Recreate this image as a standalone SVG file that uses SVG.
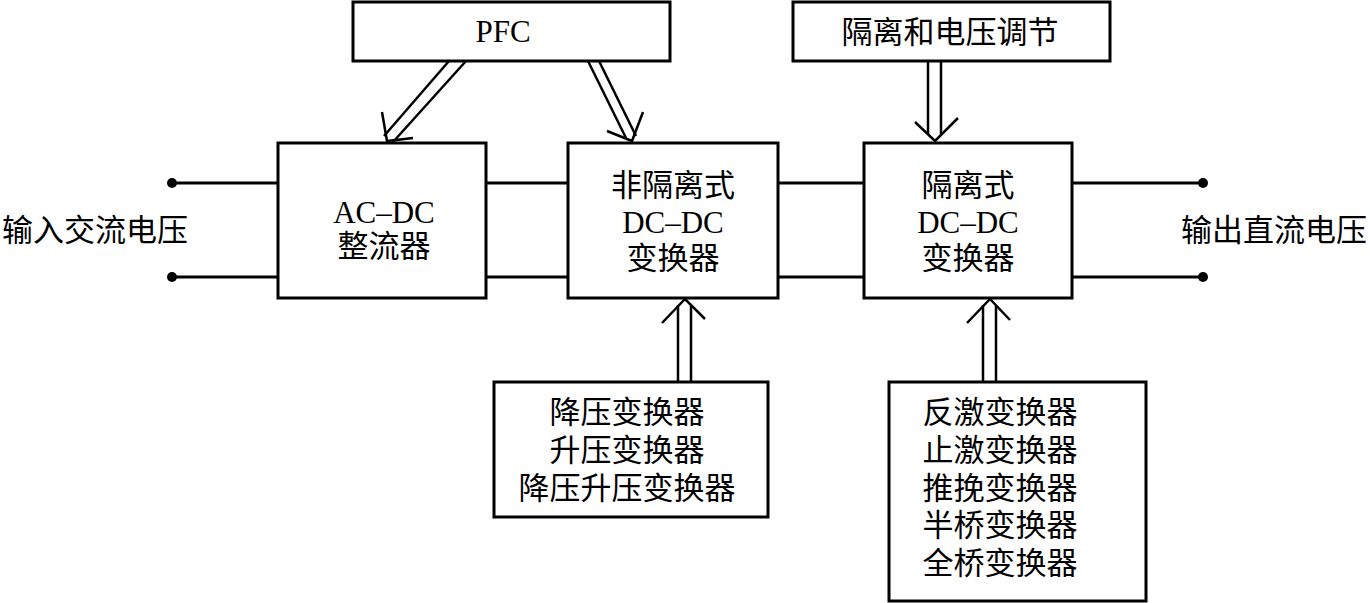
<svg xmlns="http://www.w3.org/2000/svg" width="1370" height="603" viewBox="0 0 1370 603">
<style>
.box{fill:#fff;stroke:#000;stroke-width:3}
.ln{stroke:#000;stroke-width:3;fill:none}
.ar{stroke:#000;stroke-width:2.5;fill:none}
text{font-family:"Liberation Serif","Noto Sans CJK SC",serif;font-size:31px;fill:#000;text-anchor:middle}
</style>
<rect width="1370" height="603" fill="#fff"/>
<g id="connectors">
<line class="ln" x1="172" y1="183" x2="278" y2="183"/>
<line class="ln" x1="172" y1="277" x2="278" y2="277"/>
<circle cx="172" cy="183" r="5"/>
<circle cx="172" cy="277" r="5"/>
<line class="ln" x1="486" y1="183" x2="568" y2="183"/>
<line class="ln" x1="486" y1="277" x2="568" y2="277"/>
<line class="ln" x1="778" y1="183" x2="864" y2="183"/>
<line class="ln" x1="778" y1="277" x2="864" y2="277"/>
<line class="ln" x1="1072" y1="183" x2="1203" y2="183"/>
<line class="ln" x1="1072" y1="277" x2="1203" y2="277"/>
<circle cx="1203" cy="183" r="5"/>
<circle cx="1203" cy="277" r="5"/>
<line class="ar" x1="449" y1="61" x2="384" y2="136"/>
<line class="ar" x1="466" y1="61" x2="393" y2="142"/>
<polyline class="ar" points="382,112 387,141 413,138"/>
<line class="ar" x1="588" y1="61" x2="626" y2="138"/>
<line class="ar" x1="599" y1="61" x2="636" y2="136"/>
<polyline class="ar" points="607,131 632,141 643,112"/>
<line class="ar" x1="928" y1="61" x2="928" y2="134"/>
<line class="ar" x1="941" y1="61" x2="941" y2="134"/>
<polyline class="ar" points="915,122 935,141 958,118"/>
<line class="ar" x1="678" y1="382" x2="678" y2="305"/>
<line class="ar" x1="691" y1="382" x2="691" y2="305"/>
<polyline class="ar" points="662,323 685,299 705,319"/>
<line class="ar" x1="983" y1="382" x2="983" y2="305"/>
<line class="ar" x1="996" y1="382" x2="996" y2="305"/>
<polyline class="ar" points="967,323 990,299 1010,320"/>
</g>
<g id="pfc"><rect class="box" x="353" y="2" width="317" height="59"/><text x="503" y="42">PFC</text></g>
<g id="iso-reg"><rect class="box" x="793" y="2" width="317" height="59"/><text x="950" y="43">隔离和电压调节</text></g>
<g id="acdc"><rect class="box" x="278" y="143" width="208" height="155"/><text x="384" y="223">AC–DC</text><text x="384" y="257">整流器</text></g>
<g id="noniso"><rect class="box" x="568" y="143" width="210" height="155"/><text x="673" y="196">非隔离式</text><text x="673" y="233">DC–DC</text><text x="673" y="269">变换器</text></g>
<g id="iso"><rect class="box" x="864" y="143" width="208" height="155"/><text x="968" y="196">隔离式</text><text x="968" y="233">DC–DC</text><text x="968" y="269">变换器</text></g>
<g id="in-label"><text x="95" y="241">输入交流电压</text></g>
<g id="out-label"><text x="1274" y="241">输出直流电压</text></g>
<g id="nonlist"><rect class="box" x="494" y="382" width="274" height="135"/><text x="627" y="423">降压变换器</text><text x="627" y="461">升压变换器</text><text x="627" y="499">降压升压变换器</text></g>
<g id="isolist"><rect class="box" x="889" y="382" width="257" height="219"/><text x="1000" y="423">反激变换器</text><text x="1000" y="461">止激变换器</text><text x="1000" y="499">推挽变换器</text><text x="1000" y="536">半桥变换器</text><text x="1000" y="574">全桥变换器</text></g>
</svg>
